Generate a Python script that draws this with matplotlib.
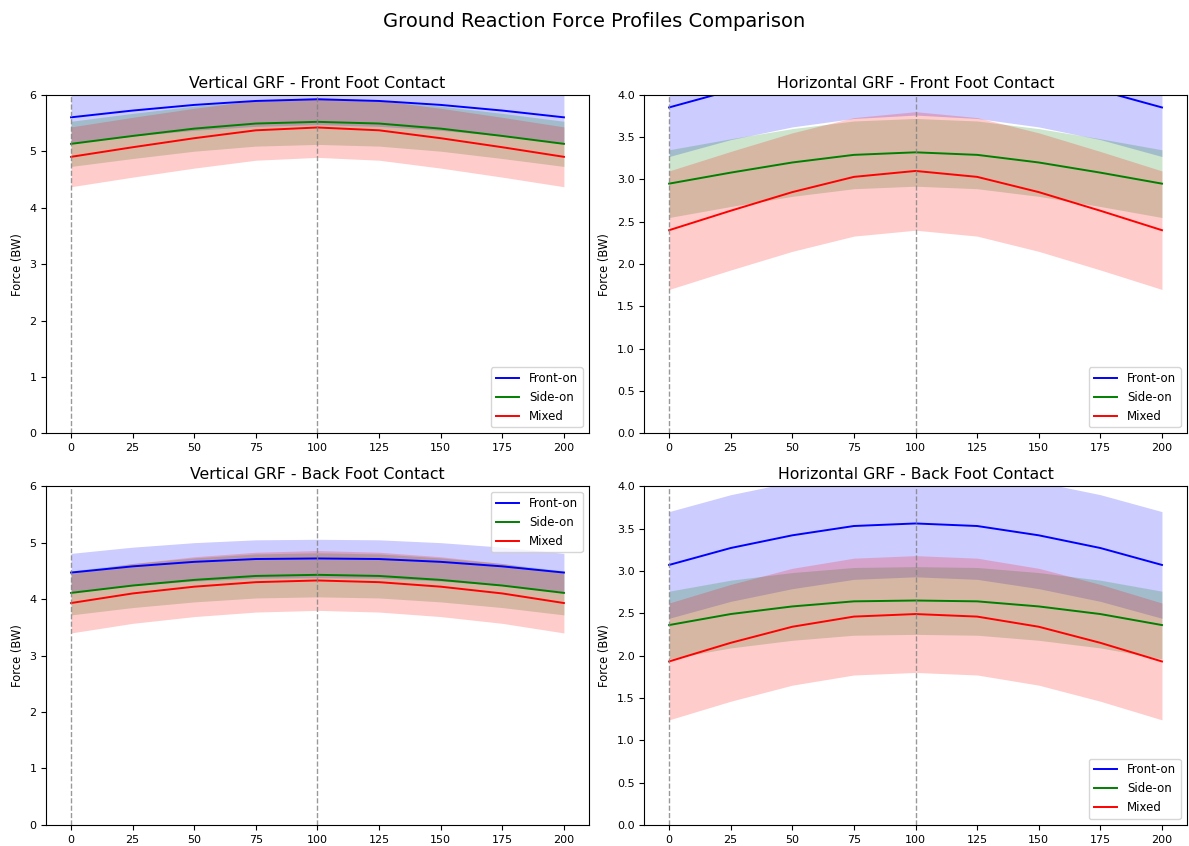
import matplotlib
matplotlib.use("Agg")
import matplotlib.pyplot as plt
import numpy as np

# time axis (ms) and the three technique groups
time_ms = [0, 25, 50, 75, 100, 125, 150, 175, 200]
techniques = ["Front-on", "Side-on", "Mixed"]
colors = ["blue", "green", "red"]

# Vertical GRF - front foot contact (mean, std)
vert_front_mean = {
    "Front-on": [5.60, 5.72, 5.82, 5.89, 5.92, 5.89, 5.82, 5.72, 5.60],
    "Side-on": [5.13, 5.27, 5.40, 5.49, 5.52, 5.49, 5.40, 5.27, 5.13],
    "Mixed": [4.90, 5.07, 5.23, 5.37, 5.42, 5.37, 5.23, 5.07, 4.90],
}
vert_front_std = {"Front-on": 0.45, "Side-on": 0.40, "Mixed": 0.53}

# Horizontal GRF - front foot contact
horiz_front_mean = {
    "Front-on": [3.85, 4.05, 4.20, 4.30, 4.34, 4.30, 4.20, 4.05, 3.85],
    "Side-on": [2.95, 3.08, 3.20, 3.29, 3.32, 3.29, 3.20, 3.08, 2.95],
    "Mixed": [2.40, 2.63, 2.85, 3.03, 3.10, 3.03, 2.85, 2.63, 2.40],
}
horiz_front_std = {"Front-on": 0.58, "Side-on": 0.40, "Mixed": 0.70}

# Vertical GRF - back foot contact
vert_back_mean = {
    "Front-on": [4.47, 4.58, 4.66, 4.71, 4.72, 4.71, 4.66, 4.58, 4.47],
    "Side-on": [4.11, 4.24, 4.34, 4.41, 4.43, 4.41, 4.34, 4.24, 4.11],
    "Mixed": [3.93, 4.10, 4.22, 4.30, 4.33, 4.30, 4.22, 4.10, 3.93],
}
vert_back_std = {"Front-on": 0.34, "Side-on": 0.39, "Mixed": 0.53}

# Horizontal GRF - back foot contact
horiz_back_mean = {
    "Front-on": [3.07, 3.27, 3.42, 3.53, 3.56, 3.53, 3.42, 3.27, 3.07],
    "Side-on": [2.36, 2.49, 2.58, 2.64, 2.65, 2.64, 2.58, 2.49, 2.36],
    "Mixed": [1.93, 2.15, 2.34, 2.46, 2.49, 2.46, 2.34, 2.15, 1.93],
}
horiz_back_std = {"Front-on": 0.63, "Side-on": 0.40, "Mixed": 0.69}

panels = [
    ("Vertical GRF - Front Foot Contact", vert_front_mean, vert_front_std, 6, "lower right"),
    ("Horizontal GRF - Front Foot Contact", horiz_front_mean, horiz_front_std, 4, "lower right"),
    ("Vertical GRF - Back Foot Contact", vert_back_mean, vert_back_std, 6, "upper right"),
    ("Horizontal GRF - Back Foot Contact", horiz_back_mean, horiz_back_std, 4, "lower right"),
]

fig, axes = plt.subplots(2, 2, figsize=(11.89, 8.46), dpi=100)
fig.suptitle("Ground Reaction Force Profiles Comparison", fontsize=14, y=0.986)

t = np.array(time_ms)
for ax, (title, means, stds, ytop, loc) in zip(axes.flat, panels):
    for name, col in zip(techniques, colors):
        m = np.array(means[name])
        s = stds[name]
        ax.plot(t, m, color=col, linewidth=1.4, label=name)
        ax.fill_between(t, m - s, m + s, color=col, alpha=0.2, linewidth=0)
    # contact markers
    ax.axvline(0, color="gray", linestyle="--", linewidth=1, alpha=0.8)
    ax.axvline(100, color="gray", linestyle="--", linewidth=1, alpha=0.8)
    ax.set_ylim(0, ytop)
    ax.set_xticks(np.arange(0, 201, 25))
    ax.set_title(title, fontsize=11.3, pad=5)
    ax.set_ylabel("Force (BW)", fontsize=8.3)
    ax.tick_params(labelsize=8)
    ax.legend(loc=loc, fontsize=8.5)

plt.subplots_adjust(left=0.039, right=0.998, top=0.888, bottom=0.025,
                    wspace=0.103, hspace=0.156)
plt.savefig("out.png")
